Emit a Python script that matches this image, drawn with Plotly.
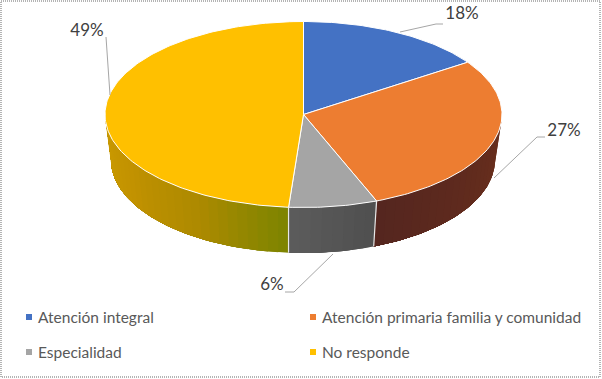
import math
import plotly.graph_objects as go

# --- data ---
categories = ["Atención integral", "Atención primaria familia y comunidad", "Especialidad", "No responde"]
percent_labels = ["18%", "27%", "6%", "49%"]
# slice shares as actually drawn in the picture (the 3D view distorts them relative to the labels)
drawn_shares = [15.5, 28.5, 7.2, 48.8]
top_colors = ["#4472C4", "#ED7D31", "#A5A5A5", "#FFC000"]
side_ramps = [["#2A4578", "#2A4578"], ["#6A2F1C", "#55261F"], ["#4F4F4F", "#5C5C5C"],
              ["#7C8400", "#AE8A00", "#C29200", "#CC9C00"]]

# --- layout constants ---
W, H = 602, 379
TOP = dict(cx=303.5, cy=114.5, rx=198.5, ry=93)
BOT = dict(cx=303, cy=160, rx=192, ry=93)
label_xy = [(462, 15), (564, 132), (272, 286), (87, 32)]
leaders = [[(400, 32), (436, 24), (443, 24)],
           [(494, 178), (537, 137), (545, 137)],
           [(333, 254), (294, 292), (285, 292)],
           [(106, 37), (110, 95)]]
legend_xy = [(29, 317), (313, 317), (29, 352), (313, 352)]
FONT = "Lato, Carlito, sans-serif"


def pt(e, deg):
    a = math.radians(deg)
    return e["cx"] + e["rx"] * math.sin(a), e["cy"] - e["ry"] * math.cos(a)


def arc(e, a, b, step=1.0):
    n = max(2, int(abs(b - a) / step) + 1)
    return [pt(e, a + (b - a) * i / (n - 1)) for i in range(n)]


def lerp_color(ramp, t):
    pos = t * (len(ramp) - 1)
    i = min(int(pos), len(ramp) - 2)
    f = pos - i
    c0 = [int(ramp[i][k:k + 2], 16) for k in (1, 3, 5)]
    c1 = [int(ramp[i + 1][k:k + 2], 16) for k in (1, 3, 5)]
    return "rgb(%d,%d,%d)" % tuple(round(p + (q - p) * f) for p, q in zip(c0, c1))


def poly(points, fill, line=None, width=0):
    xs, ys = zip(*points)
    return go.Scatter(x=xs, y=ys, mode="lines", fill="toself", fillcolor=fill,
                      line=dict(color=line or fill, width=width),
                      hoverinfo="skip", showlegend=False)


fig = go.Figure()

# slice boundaries in degrees, clockwise from 12 o'clock
bounds = [0.0]
for s in drawn_shares:
    bounds.append(bounds[-1] + s * 3.6)

# side wall (only the front half, 90..270 degrees, is visible)
for i, ramp in enumerate(side_ramps):
    a, b = max(bounds[i], 90), min(bounds[i + 1], 270)
    if b <= a:
        continue
    strips = max(1, int((b - a) / 3))
    for k in range(strips):
        s0 = a + (b - a) * k / strips
        # each strip runs on to the end of the sector, so later strips cover it without seams
        fig.add_trace(poly(arc(TOP, s0, b) + arc(BOT, b, s0), lerp_color(ramp, (k + 0.5) / strips)))
    # white seam at the start of each visible side
    if bounds[i] > 90:
        seam = [pt(TOP, bounds[i]), pt(BOT, bounds[i])]
        fig.add_trace(go.Scatter(x=[p[0] for p in seam], y=[p[1] for p in seam], mode="lines",
                                 line=dict(color="#E8E8E8", width=1.2), hoverinfo="skip", showlegend=False))

# top face
for i, color in enumerate(top_colors):
    wedge = [(TOP["cx"], TOP["cy"])] + arc(TOP, bounds[i], bounds[i + 1])
    fig.add_trace(poly(wedge + wedge[:1], color, "#FFFFFF", 1))

# leader lines
for pts in leaders:
    fig.add_trace(go.Scatter(x=[p[0] for p in pts], y=[p[1] for p in pts], mode="lines",
                             line=dict(color="#A6A6A6", width=1), hoverinfo="skip", showlegend=False))

# percent labels
fig.add_trace(go.Scatter(x=[p[0] for p in label_xy], y=[p[1] for p in label_xy], mode="text",
                         text=percent_labels, textposition="middle center",
                         textfont=dict(family=FONT, size=17, color="#404040"),
                         hoverinfo="skip", showlegend=False))

# legend
for (x, y), name, color in zip(legend_xy, categories, top_colors):
    fig.add_trace(go.Scatter(x=[x], y=[y], mode="markers", marker=dict(symbol="square", size=6, color=color),
                             hoverinfo="skip", showlegend=False))
    fig.add_annotation(x=x + 9, y=y, text=name, showarrow=False, xanchor="left", yanchor="middle",
                       xshift=-2, font=dict(family=FONT, size=15.5, color="#595959"))

fig.update_layout(
    width=W, height=H, margin=dict(l=0, r=0, t=0, b=0), autosize=False,
    paper_bgcolor="#FFFFFF", plot_bgcolor="#FFFFFF", showlegend=False,
    xaxis=dict(range=[0, W], visible=False, fixedrange=True),
    yaxis=dict(range=[H, 0], visible=False, fixedrange=True),
    shapes=[dict(type="rect", x0=1, y0=1, x1=W - 2, y1=H - 2,
                 line=dict(color="#B4B4B4", width=2, dash="1px,1px"))],
)
fig.write_html("out.html", config=dict(displayModeBar=False),
               post_script="document.body.style.margin='0';")
